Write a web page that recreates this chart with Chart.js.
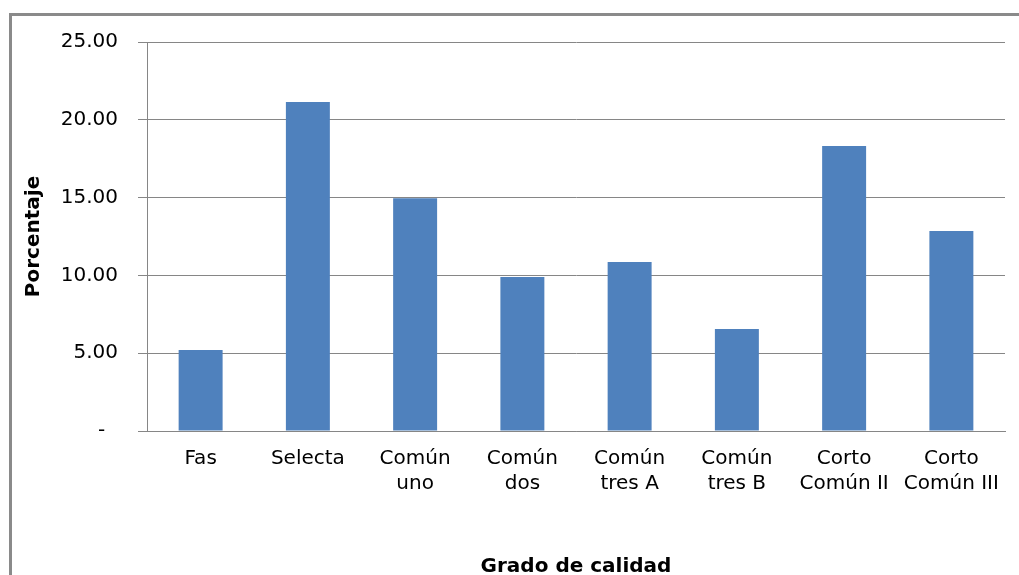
<!DOCTYPE html>
<html>
<head>
<meta charset="utf-8">
<script src="https://cdn.jsdelivr.net/npm/chart.js@4.4.1/dist/chart.umd.min.js"></script>
<style>
  html, body { margin: 0; padding: 0; background: #fff; overflow: hidden; }
  #wrap { position: absolute; left: 0; top: 0; width: 1030px; height: 600px; }
</style>
</head>
<body>
<div id="wrap"><canvas id="grafico"></canvas></div>
<script>
var categorias = [["Fas"], ["Selecta"], ["Común", "uno"], ["Común", "dos"], ["Común", "tres A"], ["Común", "tres B"], ["Corto", "Común II"], ["Corto", "Común III"]];
var porcentajes = [5.2, 21.14, 14.96, 9.89, 10.86, 6.56, 18.32, 12.85];
var ticksY = [0, 5, 10, 15, 20, 25];

// marco gris alrededor del grafico (se sale por abajo y a la derecha)
var marco = {
  id: 'marco',
  beforeDraw: function (chart) {
    var ctx = chart.ctx;
    ctx.save();
    ctx.strokeStyle = '#8a8a8a';
    ctx.lineWidth = 3;
    ctx.strokeRect(10.5, 14.5, 1200, 800);
    ctx.restore();
  }
};

var ctx = document.getElementById("grafico").getContext('2d');

var grafico = new Chart(ctx, {
  type: 'bar',
  data: {
    labels: categorias,
    datasets: [{
      data: porcentajes,
      backgroundColor: "#4f81bd",
      borderWidth: 0,
      barPercentage: 0.41,
      categoryPercentage: 1
    }]
  },
  plugins: [marco],
  options: {
    responsive: true,
    maintainAspectRatio: false,
    animation: false,
    layout: { padding: { left: 0, top: 42, right: 25, bottom: 21 } },
    plugins: {
      legend: { display: false },
      tooltip: { enabled: false }
    },
    scales: {
      x: {
        grid: { display: false, drawTicks: false },
        border: { display: true, color: '#868686', width: 1 },
        ticks: {
          color: '#000',
          padding: 15,
          maxRotation: 0,
          autoSkip: false,
          font: { family: 'DejaVu Sans', size: 20, lineHeight: 1.25 }
        },
        title: {
          display: true,
          text: 'Grado de calidad',
          color: '#000',
          padding: 0,
          font: { family: 'DejaVu Sans', size: 20, weight: 'bold' }
        },
        afterFit: function (scale) { scale.height = 148; }
      },
      y: {
        min: 0,
        max: 25,
        afterBuildTicks: function (scale) {
          scale.ticks = ticksY.map(function (v) { return { value: v }; });
        },
        grid: { color: '#868686', tickLength: 9, drawTicks: true },
        border: { display: true, color: '#868686', width: 1 },
        ticks: {
          color: '#000',
          padding: 20,
          font: { family: 'DejaVu Sans', size: 20 },
          callback: function (v) { return v === 0 ? '-  ' : v.toFixed(2); }
        },
        title: {
          display: true,
          text: 'Porcentaje',
          color: '#000',
          padding: { top: 22, bottom: 0 },
          font: { family: 'DejaVu Sans', size: 20, weight: 'bold' }
        },
        afterFit: function (scale) { scale.width = 147; }
      }
    }
  }
});
</script>
</body>
</html>
